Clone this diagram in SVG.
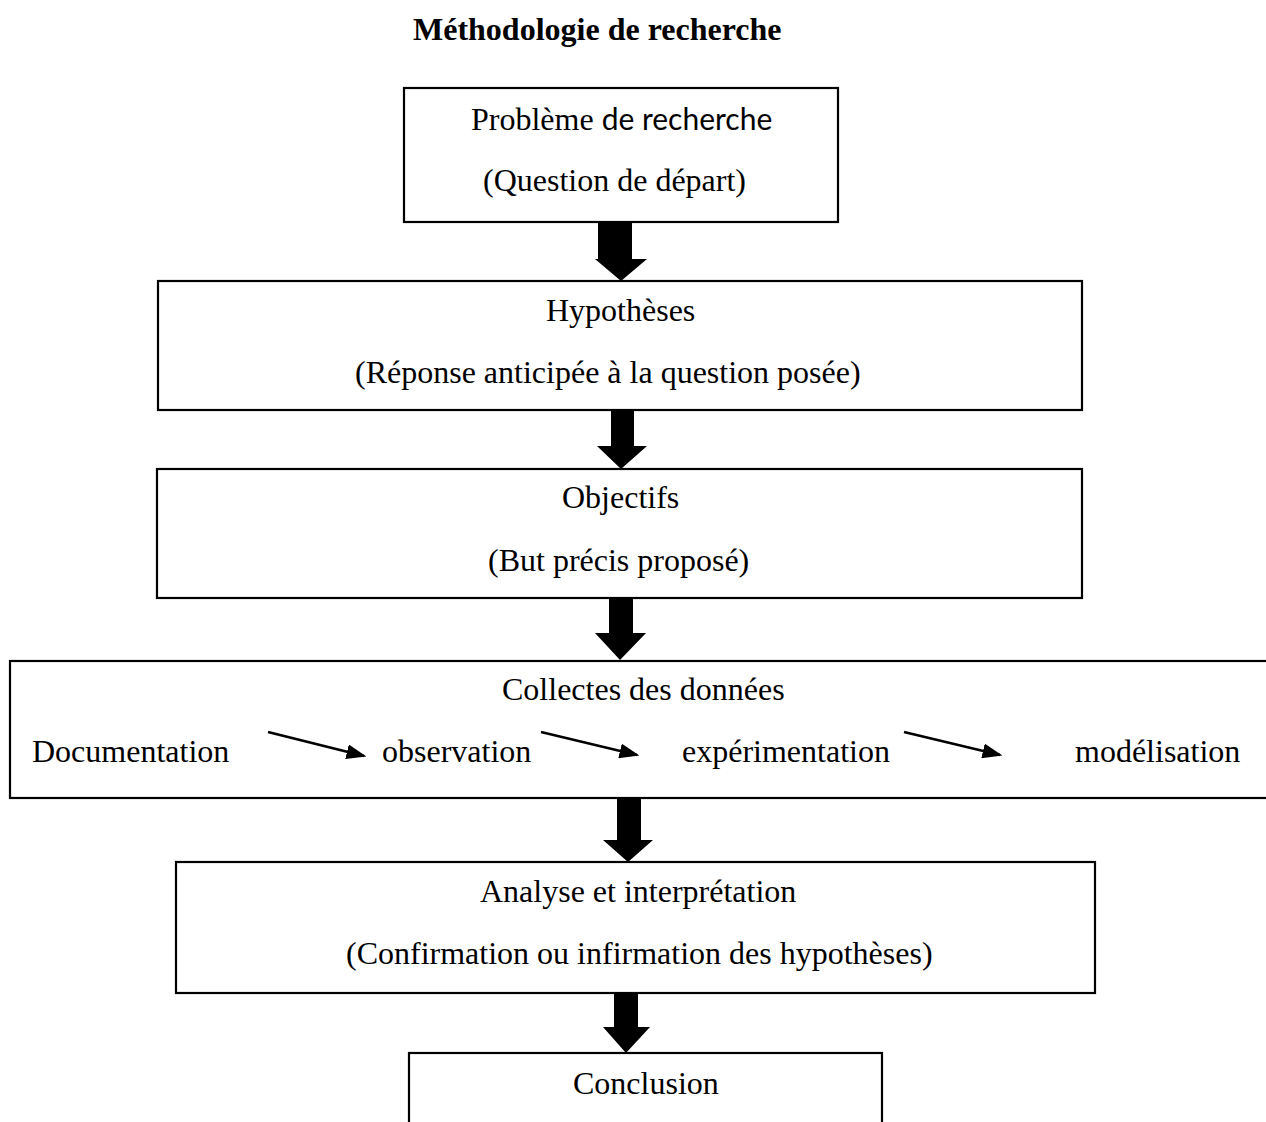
<svg xmlns="http://www.w3.org/2000/svg" width="1266" height="1122" viewBox="0 0 1266 1122">
<style>
  .box { fill: #ffffff; stroke: #000000; stroke-width: 2.2; }
  .t { font-family: "Liberation Serif", "Times New Roman", serif; font-size: 32px; fill: #000000; }
  .s { font-family: Lato, "Open Sans", sans-serif; }
  .title { font-family: "Liberation Serif", "Times New Roman", serif; font-size: 32px; font-weight: bold; fill: #000000; }
  .big { fill: #000000; stroke: none; }
  .thin { stroke: #000000; stroke-width: 2.5; fill: none; marker-end: url(#ah); }
</style>
<defs>
  <marker id="ah" markerWidth="8" markerHeight="6" refX="7" refY="3" orient="auto" markerUnits="strokeWidth">
    <path d="M0,0 L8,3 L0,6 Z" fill="#000000"/>
  </marker>
</defs>
<rect width="1266" height="1122" fill="#ffffff"/>

<text class="title" x="413" y="40">Méthodologie de recherche</text>

<g id="n1">
  <rect class="box" x="404" y="88" width="434" height="134"/>
  <text class="t" x="471" y="130">Problème <tspan class="s" font-size="30">de recherche</tspan></text>
  <text class="t" x="483" y="191">(Question de départ)</text>
</g>

<g id="n2">
  <rect class="box" x="158" y="281" width="924" height="129"/>
  <text class="t" x="546" y="321">Hypothèses</text>
  <text class="t" x="355" y="383">(Réponse anticipée à la question posée)</text>
</g>

<g id="n3">
  <rect class="box" x="157" y="469" width="925" height="129"/>
  <text class="t" x="562" y="508">Objectifs</text>
  <text class="t" x="488" y="571">(But précis proposé)</text>
</g>

<g id="n4">
  <rect class="box" x="10" y="661" width="1280" height="137"/>
  <text class="t" x="502" y="700">Collectes des données</text>
  <text class="t" x="32" y="762">Documentation</text>
  <text class="t" x="382" y="762">observation</text>
  <text class="t" x="682" y="762">expérimentation</text>
  <text class="t" x="1075" y="762">modélisation</text>
</g>

<g id="n5">
  <rect class="box" x="176" y="862" width="919" height="131"/>
  <text class="t" x="480" y="902">Analyse et interprétation</text>
  <text class="t" x="346" y="964">(Confirmation ou infirmation des hypothèses)</text>
</g>

<g id="n6">
  <rect class="box" x="409" y="1053" width="473" height="90"/>
  <text class="t" x="573" y="1094">Conclusion</text>
</g>

<g id="connectors">
  <path class="big" d="M598,222 L632,222 L632,259 L647,259 L621,281 L595,259 L598,259 Z"/>
  <path class="big" d="M611,410 L634,410 L634,446 L647,446 L621,469 L597,446 L611,446 Z"/>
  <path class="big" d="M609,598 L633,598 L633,633 L646,633 L620,660 L595,633 L609,633 Z"/>
  <path class="big" d="M617,798 L641,798 L641,840 L653,840 L628,862 L603,840 L617,840 Z"/>
  <path class="big" d="M614,993 L638,993 L638,1027 L650,1027 L626,1053 L603,1027 L614,1027 Z"/>
  <line class="thin" x1="268" y1="732" x2="364" y2="756"/>
  <line class="thin" x1="541" y1="732" x2="637" y2="755"/>
  <line class="thin" x1="904" y1="732" x2="1000" y2="755"/>
</g>
</svg>
